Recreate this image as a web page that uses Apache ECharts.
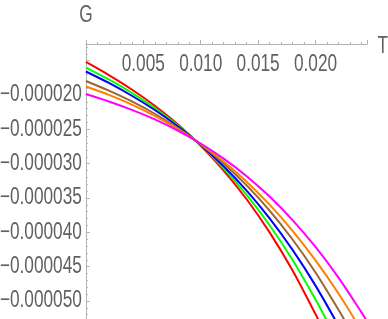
<!DOCTYPE html>
<html>
<head>
<meta charset="utf-8">
<script src="https://cdn.jsdelivr.net/npm/echarts@6/dist/echarts.min.js"></script>
<style>
html,body{margin:0;padding:0;background:#fff;}
#chart{width:388px;height:319px;}
</style>
</head>
<body>
<div id="chart"></div>
<script>
// Data: T values and G values per curve
const tRed     = [0, 0.002, 0.004, 0.006, 0.008, 0.010, 0.012, 0.014, 0.016, 0.018, 0.020, 0.02034];
const gRed     = [-15.19e-6, -17.10e-6, -19.20e-6, -21.56e-6, -24.26e-6, -27.38e-6, -31.00e-6, -35.18e-6, -40.01e-6, -45.56e-6, -51.91e-6, -53.06e-6];
const tGreen   = [0, 0.002, 0.004, 0.006, 0.008, 0.010, 0.012, 0.014, 0.016, 0.018, 0.020, 0.02105];
const gGreen   = [-16.00e-6, -17.74e-6, -19.69e-6, -21.89e-6, -24.42e-6, -27.33e-6, -30.68e-6, -34.54e-6, -38.96e-6, -44.02e-6, -49.77e-6, -53.06e-6];
const tBlue    = [0, 0.002, 0.004, 0.006, 0.008, 0.010, 0.012, 0.014, 0.016, 0.018, 0.020, 0.022];
const gBlue    = [-16.58e-6, -18.25e-6, -20.11e-6, -22.19e-6, -24.56e-6, -27.27e-6, -30.37e-6, -33.92e-6, -37.96e-6, -42.56e-6, -47.76e-6, -53.61e-6];
const tBrown   = [0, 0.002, 0.004, 0.006, 0.008, 0.010, 0.012, 0.014, 0.016, 0.018, 0.020, 0.022, 0.02262];
const gBrown   = [-17.96e-6, -19.37e-6, -20.94e-6, -22.73e-6, -24.80e-6, -27.19e-6, -29.96e-6, -33.16e-6, -36.83e-6, -41.04e-6, -45.84e-6, -51.27e-6, -53.06e-6];
const tOrange  = [0, 0.002, 0.004, 0.006, 0.008, 0.010, 0.012, 0.014, 0.016, 0.018, 0.020, 0.022, 0.024];
const gOrange  = [-18.76e-6, -19.98e-6, -21.39e-6, -23.03e-6, -24.93e-6, -27.14e-6, -29.69e-6, -32.62e-6, -35.97e-6, -39.78e-6, -44.08e-6, -48.91e-6, -54.31e-6];
const tMagenta = [0, 0.002, 0.004, 0.006, 0.008, 0.010, 0.012, 0.014, 0.016, 0.018, 0.020, 0.022, 0.024, 0.02452];
const gMagenta = [-19.85e-6, -20.94e-6, -22.16e-6, -23.55e-6, -25.17e-6, -27.06e-6, -29.26e-6, -31.82e-6, -34.79e-6, -38.21e-6, -42.13e-6, -46.60e-6, -51.65e-6, -53.06e-6];

// Tick labels
const xTickValues = [0.005, 0.010, 0.015, 0.020];
const xTickLabels = ['0.005', '0.010', '0.015', '0.020'];
const yTickValues = [-0.000020, -0.000025, -0.000030, -0.000035, -0.000040, -0.000045, -0.000050];
const yTickLabels = ['\u22120.000020', '\u22120.000025', '\u22120.000030', '\u22120.000035', '\u22120.000040', '\u22120.000045', '\u22120.000050'];
const xName = 'T';
const yName = 'G';

const seriesDefs = [
  {name: 'red', t: tRed, g: gRed, color: '#ff0000'},
  {name: 'green', t: tGreen, g: gGreen, color: '#00ff00'},
  {name: 'blue', t: tBlue, g: gBlue, color: '#0000ff'},
  {name: 'brown', t: tBrown, g: gBrown, color: '#996633'},
  {name: 'orange', t: tOrange, g: gOrange, color: '#ff8000'},
  {name: 'magenta', t: tMagenta, g: gMagenta, color: '#ff00ff'}
];

const FONT = "'Liberation Sans', Arial, sans-serif";
const FSIZE = 23;
const SX = 0.75;
const TXT = '#606060';
const AX = '#b3b3b3';

const chart = echarts.init(document.getElementById('chart'), null, {renderer: 'canvas', devicePixelRatio: 1});

const xMin = 0, xMax = 0.0245;
const yMin = -0.000055, yMax = -0.000012573;

chart.setOption({
  animation: false,
  backgroundColor: '#ffffff',
  grid: {left: 85.9, top: 44, width: 281.3, height: 291.35, containLabel: false, outerBoundsMode: 'none'},
  xAxis: [{
    type: 'value', position: 'top', min: xMin, max: xMax, interval: 0.005,
    axisLine: {show: true, onZero: false, lineStyle: {color: AX, width: 1}},
    axisTick: {show: true, inside: false, length: 4, lineStyle: {color: AX}},
    axisLabel: {show: false},
    splitLine: {show: false}
  }, {
    type: 'value', position: 'top', min: xMin, max: xMax, interval: 0.001,
    axisLine: {show: false, onZero: false},
    axisTick: {show: true, inside: false, length: 2, lineStyle: {color: AX}},
    axisLabel: {show: false},
    splitLine: {show: false}
  }],
  yAxis: [{
    type: 'value', position: 'left', min: yMin, max: yMax, interval: 0.000005,
    axisLine: {show: true, onZero: false, lineStyle: {color: AX, width: 1}},
    axisTick: {show: true, inside: true, length: 4, lineStyle: {color: AX}},
    axisLabel: {show: false},
    splitLine: {show: false}
  }, {
    type: 'value', position: 'left', min: yMin, max: yMax, interval: 0.000001,
    axisLine: {show: false, onZero: false},
    axisTick: {show: true, inside: true, length: 2, lineStyle: {color: AX}},
    axisLabel: {show: false},
    splitLine: {show: false}
  }],
  series: seriesDefs.map(function (d) {
    return {
      name: d.name, type: 'line', xAxisIndex: 0, yAxisIndex: 0,
      data: d.t.map(function (t, i) { return [t, d.g[i]]; }),
      smooth: 0.3, showSymbol: false, clip: true,
      lineStyle: {color: d.color, width: 2},
      itemStyle: {color: d.color}
    };
  })
});

function txt(text, x, y, align, valign) {
  return {
    type: 'text', x: x, y: y, scaleX: SX, scaleY: 1, silent: true,
    style: {
      text: text, fill: TXT,
      font: FSIZE + 'px ' + FONT,
      textAlign: align, textVerticalAlign: valign,
      align: align, verticalAlign: valign
    }
  };
}

const g = [];
const axisY = chart.convertToPixel({yAxisIndex: 0}, yMax);
const axisX = chart.convertToPixel({xAxisIndex: 0}, xMin);
const axisEndX = chart.convertToPixel({xAxisIndex: 0}, xMax);
xTickValues.forEach(function (v, i) {
  g.push(txt(xTickLabels[i], chart.convertToPixel({xAxisIndex: 0}, v), axisY + 20.5, 'center', 'middle'));
});
yTickValues.forEach(function (v, i) {
  g.push(txt(yTickLabels[i], axisX - 4, chart.convertToPixel({yAxisIndex: 0}, v), 'right', 'middle'));
});
g.push(txt(yName, axisX, axisY - 28, 'center', 'middle'));
g.push(txt(xName, axisEndX + 15.5, axisY + 2.5, 'center', 'middle'));
chart.setOption({graphic: {elements: g}});
</script>
</body>
</html>
